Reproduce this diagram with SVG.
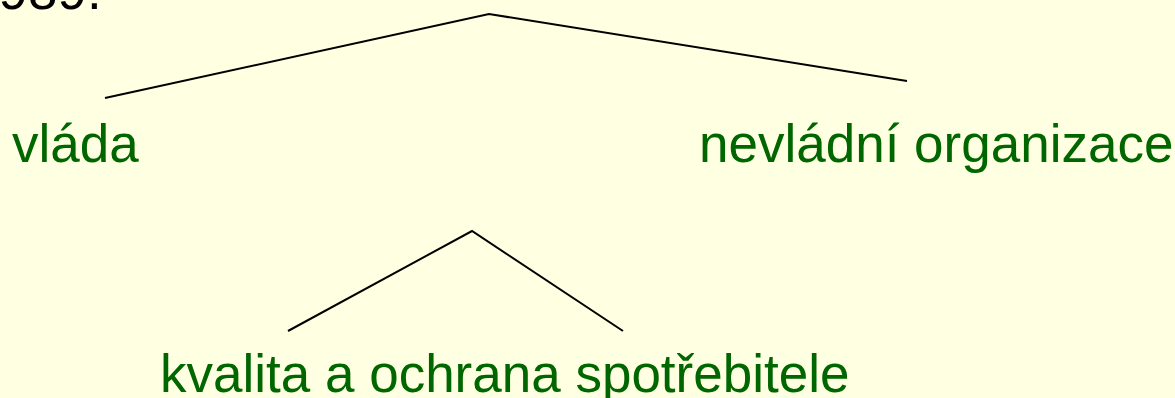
<svg xmlns="http://www.w3.org/2000/svg" width="1175" height="398" viewBox="0 0 1175 398">
<style>
.bg{fill:#FFFFE1}
.t{font-family:"Liberation Sans",Arial,sans-serif;font-size:53px}
.g{fill:#006600}
.k{fill:#000000}
.c{stroke:#000000;stroke-width:2;fill:none}
</style>
<rect class="bg" x="0" y="0" width="1175" height="398"/>
<text class="t k" x="-1.5" y="9">989.</text>
<g id="connectors">
<polyline class="c" points="105,98 489,14 907,81"/>
<polyline class="c" points="288,331 472,231 623,331"/>
</g>
<g id="node-vlada"><text class="t g" x="12" y="162">vláda</text></g>
<g id="node-nevladni"><text class="t g" x="699" y="162">nevládní organizace</text></g>
<g id="node-kvalita"><text class="t g" x="160" y="392">kvalita a ochrana spotřebitele</text></g>
</svg>
